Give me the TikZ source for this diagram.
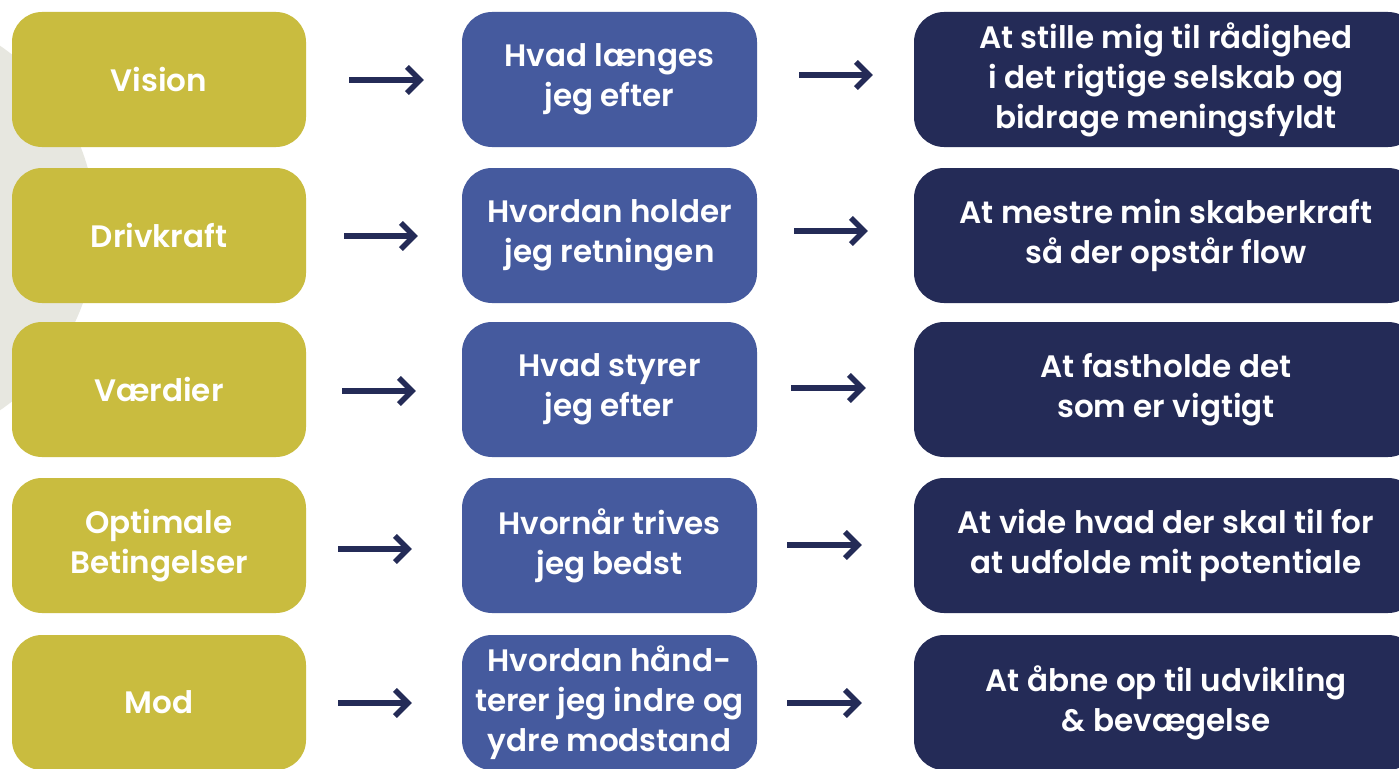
\documentclass[tikz,border=0pt]{standalone}
\usepackage{fontspec}
\setmainfont{Poppins SemiBold}
\usetikzlibrary{arrows.meta}
\definecolor{mustard}{HTML}{C9BC3F}
\definecolor{midblue}{HTML}{455A9E}
\definecolor{navyb}{HTML}{242B57}
\definecolor{bggray}{HTML}{E7E7E0}
\tikzset{
  box/.style={rounded corners=30pt, minimum height=135pt, inner sep=0pt, text=white,
    align=center, font=\fontsize{31}{40}\selectfont},
  boxA/.style={box, fill=mustard, minimum width=294pt},
  boxB/.style={box, fill=midblue, minimum width=295pt},
  boxC/.style={box, fill=navyb, minimum width=504pt},
  arr/.style={draw=navyb, line width=5.5pt, -{Straight Barb[length=13pt,width=26pt,line width=5.5pt]}}
}
\begin{document}
\begin{tikzpicture}[x=1pt,y=-1pt]
\useasboundingbox (0,0) rectangle (1399,768);
\clip (0,0) rectangle (1399,768);
\fill[white] (0,0) rectangle (1399,768);
\fill[bggray] (-125,228) circle[radius=221pt];
% column 1
\node[boxA] (a1) at (159,79.5) {Vision};
\node[boxA] (a2) at (159,235.5) {Drivkraft};
\node[boxA] (a3) at (159,389.5) {Værdier};
\node[boxA] (a4) at (159,545.5) {Optimale\\Betingelser};
\node[boxA] (a5) at (159,702.5) {Mod};
% column 2
\node[boxB] (b1) at (609.5,79.5) {Hvad længes\\jeg efter};
\node[boxB] (b2) at (609.5,235.5) {Hvordan holder\\jeg retningen};
\node[boxB] (b3) at (609.5,389.5) {Hvad styrer\\jeg efter};
\node[boxB] (b4) at (609.5,545.5) {Hvornår trives\\jeg bedst};
\node[boxB] (b5) at (609.5,702.5) {Hvordan hånd-\\terer jeg indre og\\ydre modstand};
% column 3
\node[boxC] (c1) at (1166,79.5) {At stille mig til rådighed\\i det rigtige selskab og\\bidrage meningsfyldt};
\node[boxC] (c2) at (1166,235.5) {At mestre min skaberkraft\\så der opstår flow};
\node[boxC] (c3) at (1166,389.5) {At fastholde det\\som er vigtigt};
\node[boxC] (c4) at (1166,545.5) {At vide hvad der skal til for\\at udfolde mit potentiale};
\node[boxC] (c5) at (1166,702.5) {At åbne op til udvikling\\\& bevægelse};
% arrows column 1 -> 2
\draw[arr] ([xshift=43pt,yshift=-0.5pt]a1.east) -- ([xshift=-38pt,yshift=-0.5pt]b1.west);
\draw[arr] ([xshift=38pt,yshift=-0.5pt]a2.east) -- ([xshift=-44pt,yshift=-0.5pt]b2.west);
\draw[arr] ([xshift=36pt,yshift=-1.5pt]a3.east) -- ([xshift=-46pt,yshift=-1.5pt]b3.west);
\draw[arr] ([xshift=32pt,yshift=-3.5pt]a4.east) -- ([xshift=-50pt,yshift=-3.5pt]b4.west);
\draw[arr] ([xshift=32pt,yshift=-0.5pt]a5.east) -- ([xshift=-50pt,yshift=-0.5pt]b5.west);
% arrows column 2 -> 3
\draw[arr] ([xshift=42pt,yshift=4.5pt]b1.east) -- ([xshift=-41pt,yshift=4.5pt]c1.west);
\draw[arr] ([xshift=37pt,yshift=4.5pt]b2.east) -- ([xshift=-46pt,yshift=4.5pt]c2.west);
\draw[arr] ([xshift=34pt,yshift=1.5pt]b3.east) -- ([xshift=-48pt,yshift=1.5pt]c3.west);
\draw[arr] ([xshift=30pt,yshift=0.5pt]b4.east) -- ([xshift=-52pt,yshift=0.5pt]c4.west);
\draw[arr] ([xshift=30pt,yshift=-0.5pt]b5.east) -- ([xshift=-52pt,yshift=-0.5pt]c5.west);
\end{tikzpicture}
\end{document}
